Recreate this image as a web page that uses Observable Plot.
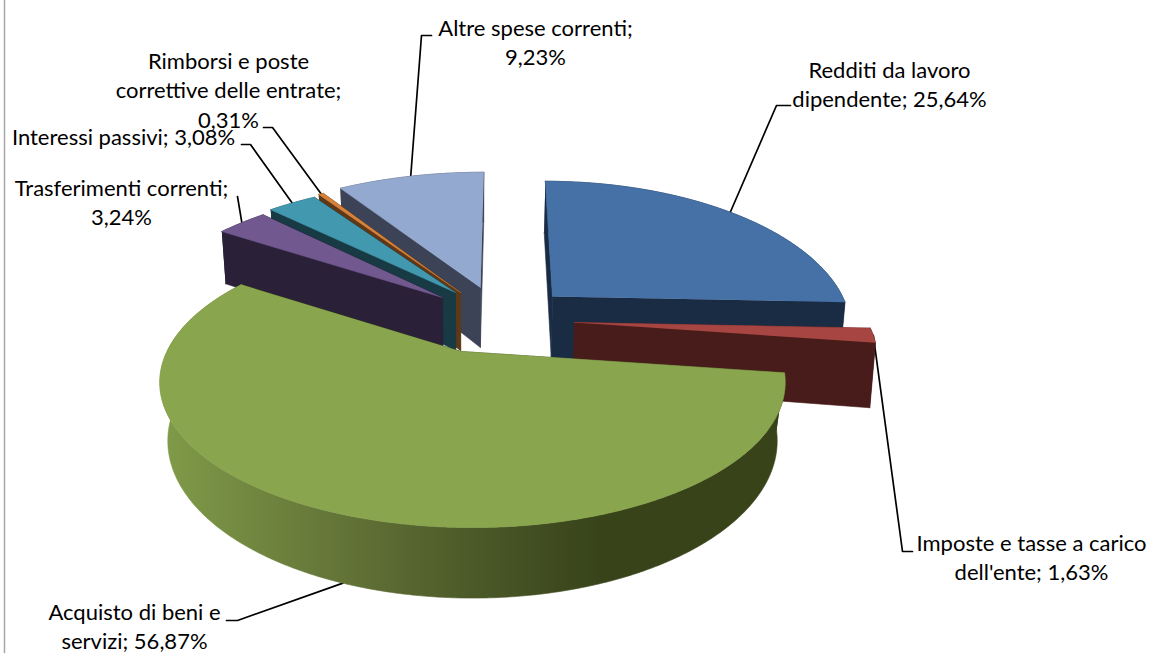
<!DOCTYPE html>
<html>
<head>
<meta charset="utf-8">
<script src="https://cdn.jsdelivr.net/npm/d3@7"></script>
<script src="https://cdn.jsdelivr.net/npm/@observablehq/plot@0.6"></script>
<style>html,body{margin:0;padding:0;background:#fff}svg{display:block}</style>
</head>
<body>
<div id="chart"></div>
<script>
// Data
const categories = ["Redditi da lavoro dipendente","Imposte e tasse a carico dell'ente","Acquisto di beni e servizi","Trasferimenti correnti","Interessi passivi","Rimborsi e poste correttive delle entrate","Altre spese correnti"];
const shares = [25.64,1.63,56.87,3.24,3.08,0.31,9.23];
const labelLines = [
  ["Redditi da lavoro","dipendente; "],
  ["Imposte e tasse a carico","dell'ente; "],
  ["Acquisto di beni e","servizi; "],
  ["Trasferimenti correnti;",""],
  ["Interessi passivi; "],
  ["Rimborsi e poste","correttive delle entrate;",""],
  ["Altre spese correnti;",""]
];
// Styles
const topColors  = ["#4571a6","#a64542","#89a54e","#71588f","#4198af","#d9813a","#93a9cf"];
const sideColors = ["#1a2c44","#481c1a","url(#greenSide)","#2a2138","#183a44","#5f3917","#3c4356"];
const wallColors = ["#1a2c44","#481c1a","#384319","#2a2138","#183a44","#5f3917","#3c4356"];
// 3D layout of every exploded slice
const apexX = [552,574,461,442,455,460,480];
const apexY = [296,322,351,297,292,292,287];
const centerX = [552,574,472,442,455,460,480];
const centerY = [296,322,352,297,292,292,287];
const radiusX = [290,293,306,300,306,306,306];
const radiusY = [139,139,139,135,135,139,139];
const thick = [62,63,56,58,58,58,60];
const lean = [.015,.014,.0256,.015,.015,.015,.015];
const vanishXs = [510,500,472,500,500,500,500];
const persp = 0.206, nadirX = 472;
const drawOrder = [6,5,4,3,0,1,2];
// Label layout
const labelX = [889,1031,134,121,123,228,535];
const labelY = [68,541,610,186,135,59,26];
const lineH = 29.5;
const fontPx = 22;
const elbows = [[[776,105],[790,105]],[[902,551],[912,551]],[[237,620],[226,620]],[[237,196]],[[250,144],[241,144]],[[272,127],[263,127]],[[421,35],[431,35]]];
const anchorOnBase = [false,false,true,false,false,false,false];

const arcs = d3.pie().sort(null).value(d => d)(shares);
const rim = (i, t) => {
  const X = Math.sin(t), Y = Math.cos(t), w = 1 + persp * Y, v = vanishXs[i];
  return {x: v + (centerX[i] - v + radiusX[i] * X) / w, y: centerY[i] - radiusY[i] * Y / w, w};
};
const drop = (i, p) => ({x: p.x + (nadirX - p.x) * lean[i], y: p.y + thick[i] / p.w});
const arcPts = (i) => {
  const a = arcs[i], n = Math.max(3, Math.ceil((a.endAngle - a.startAngle) * 120));
  return d3.range(n + 1).map(k => rim(i, a.startAngle + (a.endAngle - a.startAngle) * k / n));
};
const polys = [];
for (const i of drawOrder) {
  const pts = arcPts(i);
  const apex = {x: apexX[i], y: apexY[i], w: 1};
  const wall = (e) => [e, apex, drop(i, apex), drop(i, e)];
  polys.push({pts: wall(pts[0]), fill: wallColors[i]});
  polys.push({pts: wall(pts[pts.length - 1]), fill: wallColors[i]});
  polys.push({pts: [...pts, ...pts.map(p => drop(i, p)).reverse()], fill: sideColors[i]});
  polys.push({pts: [apex, ...pts], fill: topColors[i]});
}
const fmt = v => v.toFixed(2).replace(".", ",") + "%";
const labels = categories.map((c, i) => {
  const ln = labelLines[i].slice();
  ln[ln.length - 1] += fmt(shares[i]);
  return {name: c, text: ln.join("\n"), x: labelX[i], y: labelY[i] + (ln.length - 1) * lineH / 2};
});
const leaders = categories.map((c, i) => {
  const p = rim(i, (arcs[i].startAngle + arcs[i].endAngle) / 2);
  const a = anchorOnBase[i] ? drop(i, p) : p;
  return [{x: a.x, y: a.y}, ...elbows[i].map(([x, y]) => ({x, y}))];
});

const defs = () => {
  const s = d3.create("svg:defs");
  const g = s.append("linearGradient").attr("id", "greenSide").attr("gradientUnits", "userSpaceOnUse")
    .attr("x1", 165).attr("x2", 600).attr("y1", 0).attr("y2", 0);
  [[0, "#7f9a48"], [.35, "#67793a"], [.7, "#4c5a29"], [1, "#384319"]].forEach(([o, c]) =>
    g.append("stop").attr("offset", o).attr("stop-color", c));
  return s.node();
};

const chart = Plot.plot({
  width: 1150, height: 653, margin: 0,
  x: {domain: [0, 1150], range: [0, 1150], axis: null},
  y: {domain: [0, 653], range: [0, 653], axis: null},
  style: {background: "#fff"},
  marks: [
    defs,
    Plot.ruleX([4], {stroke: "#a6a6a6", strokeWidth: 1.5}),
    ...leaders.map(l => Plot.line(l, {x: "x", y: "y", stroke: "#000", strokeWidth: 1.7, curve: "linear"})),
    ...polys.map(p => Plot.line(p.pts, {x: "x", y: "y", fill: p.fill, stroke: p.fill, strokeWidth: 0.6, curve: "linear"})),
    Plot.text(labels, {x: "x", y: "y", text: "text", fontFamily: "Lato", fontSize: fontPx, lineHeight: lineH / fontPx, lineAnchor: "middle", textAnchor: "middle", fill: "#000"})
  ]
});
document.getElementById("chart").append(chart);
</script>
</body>
</html>
